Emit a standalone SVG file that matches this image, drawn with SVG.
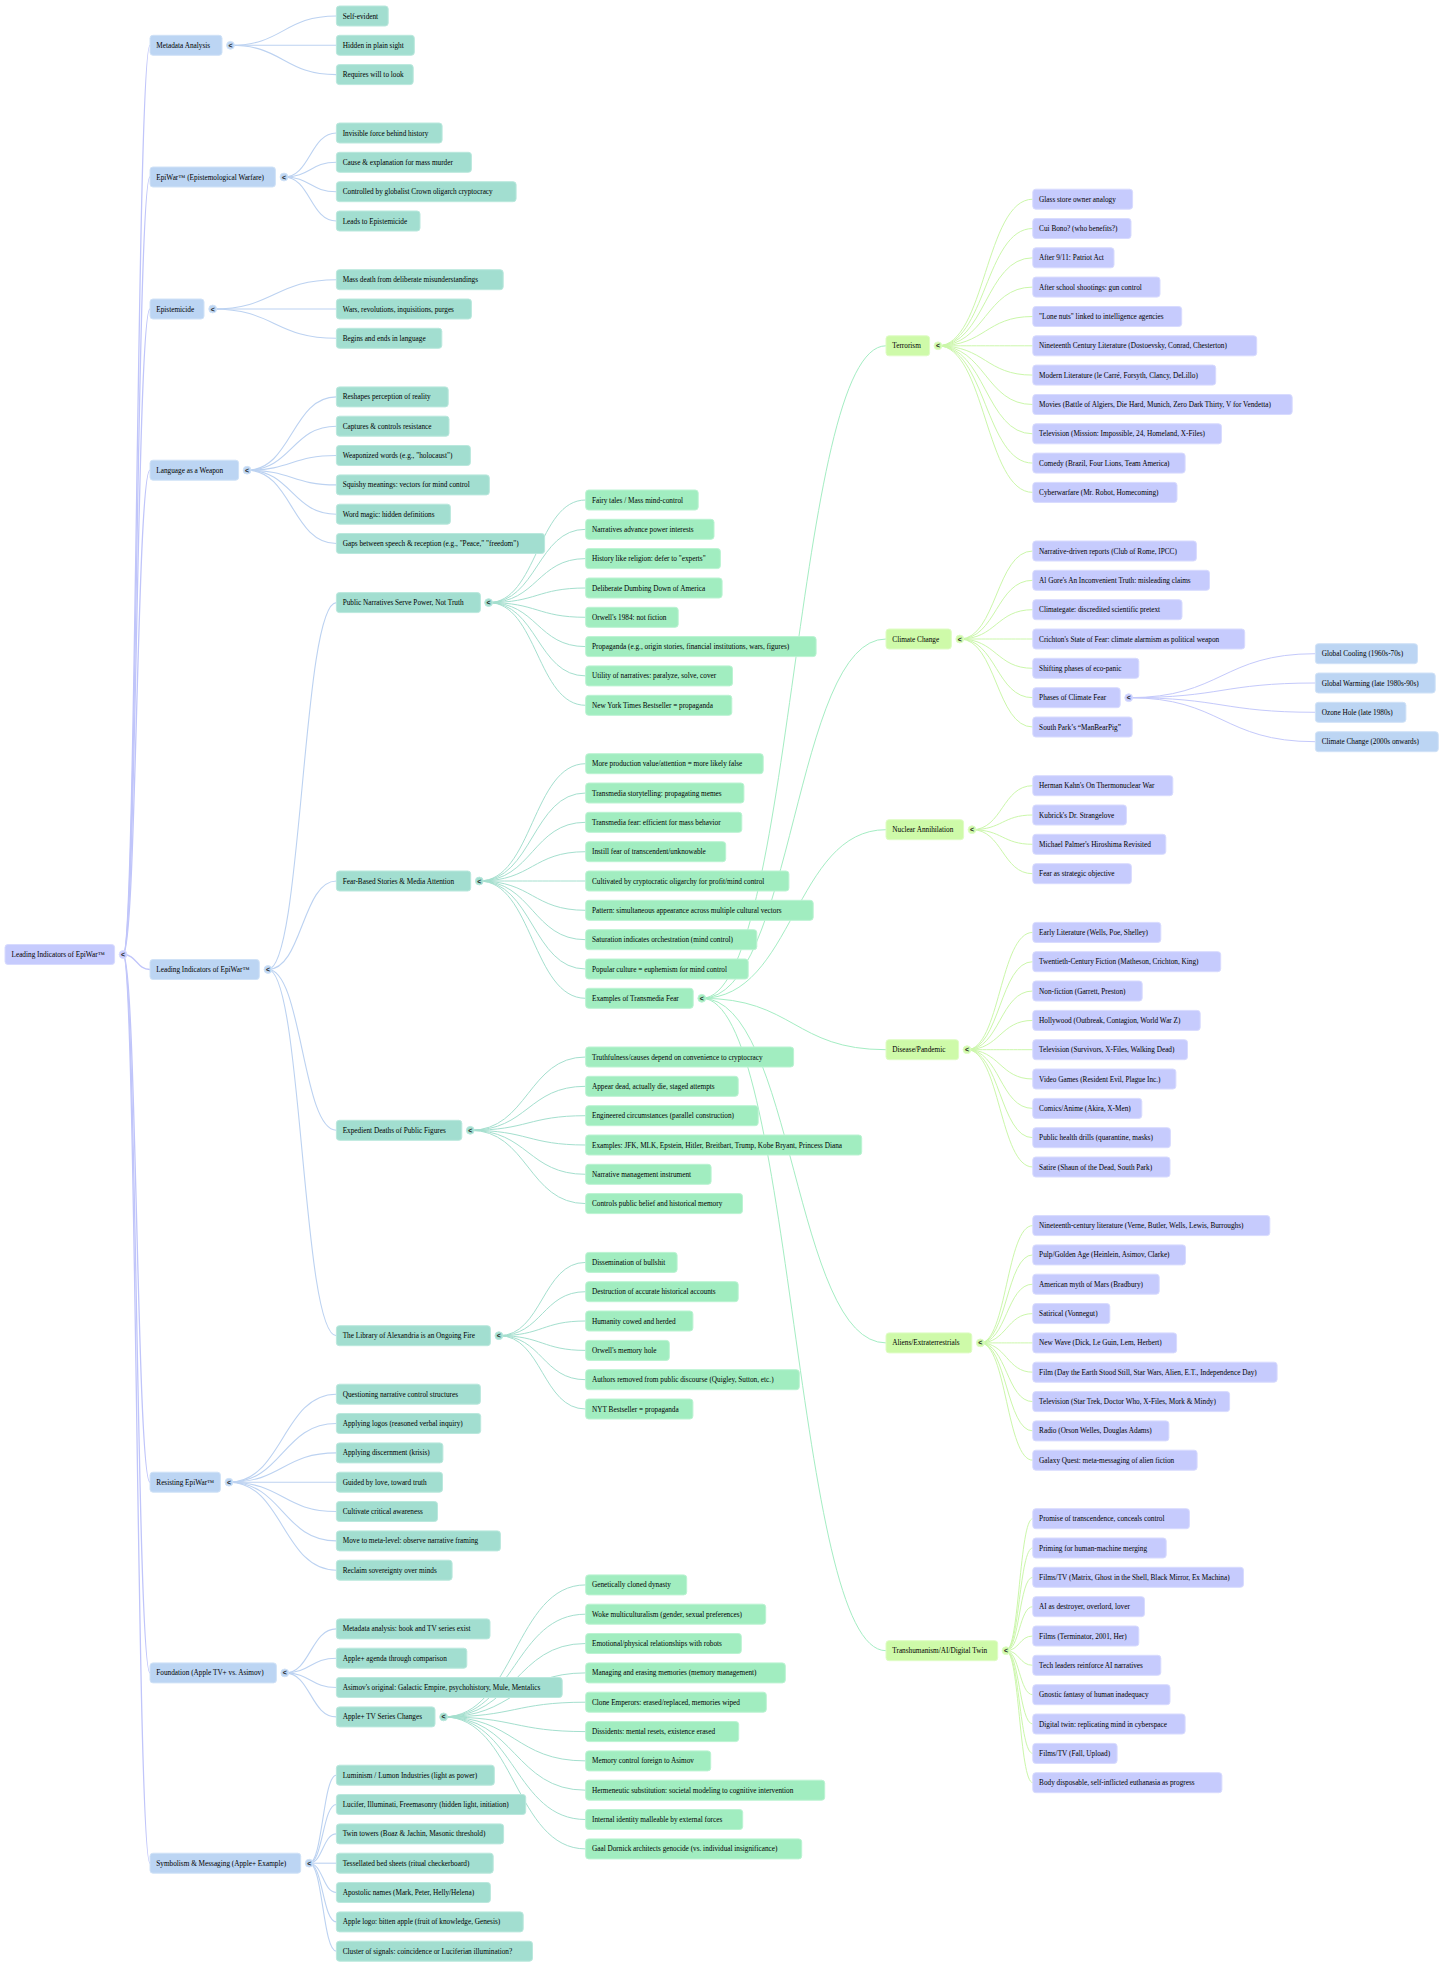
<svg xmlns="http://www.w3.org/2000/svg" width="1456" height="1968" viewBox="0 0 1456 1968">
<style>
rect{rx:3px;ry:3px;stroke-width:1}
text{font-family:"Liberation Serif","Times New Roman",serif;font-size:7.25px;fill:#000}
.c0{fill:#c6cbfd;stroke:#d8dbfe}
.c1{fill:#bcd5f3;stroke:#d0e2f7}
.c2{fill:#a2ded0;stroke:#bae8dd}
.c3{fill:#a1edc0;stroke:#bbf3d2}
.c4{fill:#cefaa9;stroke:#dffcc5}
circle{stroke:none}
.k{font-family:"Liberation Sans",Arial,sans-serif;font-size:7px;font-weight:bold;text-anchor:middle;fill:#222}
#connectors path{fill:none;stroke-width:1}
.l0{stroke:#c0c5fa;stroke-width:1.3px!important}
.l1{stroke:#bcd2f1;stroke-width:1.1px!important}
.l2{stroke:#a4dfce}
.l3{stroke:#a4edc3}
.l4{stroke:#cbf7aa}
.l5{stroke:#c4c9fb}
</style>
<rect x="0" y="0" width="1456" height="1968" fill="#ffffff" style="rx:0;stroke:none"/>
<g id="connectors">
<path class="l0" d="M123.1 954.5C136.6 954.5 136.6 45.3 150 45.3"/>
<path class="l0" d="M123.1 954.5C136.6 954.5 136.6 177 150 177"/>
<path class="l0" d="M123.1 954.5C136.6 954.5 136.6 309 150 309"/>
<path class="l0" d="M123.1 954.5C136.6 954.5 136.6 470.2 150 470.2"/>
<path class="l0" d="M123.1 954.5C136.6 954.5 136.6 969.5 150 969.5"/>
<path class="l0" d="M123.1 954.5C136.6 954.5 136.6 1482.2 150 1482.2"/>
<path class="l0" d="M123.1 954.5C136.6 954.5 136.6 1672.9 150 1672.9"/>
<path class="l0" d="M123.1 954.5C136.6 954.5 136.6 1863.2 150 1863.2"/>
<path class="l1" d="M230.5 45.3C283.5 45.3 283.5 16 336.4 16"/>
<path class="l1" d="M230.5 45.3C283.5 45.3 283.5 45.3 336.4 45.3"/>
<path class="l1" d="M230.5 45.3C283.5 45.3 283.5 74.6 336.4 74.6"/>
<path class="l1" d="M284 177C310.2 177 310.2 133 336.4 133"/>
<path class="l1" d="M284 177C310.2 177 310.2 162.3 336.4 162.3"/>
<path class="l1" d="M284 177C310.2 177 310.2 191.7 336.4 191.7"/>
<path class="l1" d="M284 177C310.2 177 310.2 221 336.4 221"/>
<path class="l1" d="M212.7 309C274.6 309 274.6 279.7 336.4 279.7"/>
<path class="l1" d="M212.7 309C274.6 309 274.6 309 336.4 309"/>
<path class="l1" d="M212.7 309C274.6 309 274.6 338.3 336.4 338.3"/>
<path class="l1" d="M247.1 470.2C291.8 470.2 291.8 396.9 336.4 396.9"/>
<path class="l1" d="M247.1 470.2C291.8 470.2 291.8 426.2 336.4 426.2"/>
<path class="l1" d="M247.1 470.2C291.8 470.2 291.8 455.5 336.4 455.5"/>
<path class="l1" d="M247.1 470.2C291.8 470.2 291.8 484.9 336.4 484.9"/>
<path class="l1" d="M247.1 470.2C291.8 470.2 291.8 514.2 336.4 514.2"/>
<path class="l1" d="M247.1 470.2C291.8 470.2 291.8 543.5 336.4 543.5"/>
<path class="l1" d="M268 969.5C302.2 969.5 302.2 602.6 336.4 602.6"/>
<path class="l1" d="M268 969.5C302.2 969.5 302.2 881 336.4 881"/>
<path class="l1" d="M268 969.5C302.2 969.5 302.2 1130.3 336.4 1130.3"/>
<path class="l1" d="M268 969.5C302.2 969.5 302.2 1335.7 336.4 1335.7"/>
<path class="l1" d="M229 1482.2C282.7 1482.2 282.7 1394.2 336.4 1394.2"/>
<path class="l1" d="M229 1482.2C282.7 1482.2 282.7 1423.5 336.4 1423.5"/>
<path class="l1" d="M229 1482.2C282.7 1482.2 282.7 1452.9 336.4 1452.9"/>
<path class="l1" d="M229 1482.2C282.7 1482.2 282.7 1482.2 336.4 1482.2"/>
<path class="l1" d="M229 1482.2C282.7 1482.2 282.7 1511.5 336.4 1511.5"/>
<path class="l1" d="M229 1482.2C282.7 1482.2 282.7 1540.9 336.4 1540.9"/>
<path class="l1" d="M229 1482.2C282.7 1482.2 282.7 1570.2 336.4 1570.2"/>
<path class="l1" d="M284.8 1672.9C310.6 1672.9 310.6 1628.9 336.4 1628.9"/>
<path class="l1" d="M284.8 1672.9C310.6 1672.9 310.6 1658.2 336.4 1658.2"/>
<path class="l1" d="M284.8 1672.9C310.6 1672.9 310.6 1687.5 336.4 1687.5"/>
<path class="l1" d="M284.8 1672.9C310.6 1672.9 310.6 1716.9 336.4 1716.9"/>
<path class="l1" d="M309.2 1863.2C322.8 1863.2 322.8 1775.2 336.4 1775.2"/>
<path class="l1" d="M309.2 1863.2C322.8 1863.2 322.8 1804.5 336.4 1804.5"/>
<path class="l1" d="M309.2 1863.2C322.8 1863.2 322.8 1833.9 336.4 1833.9"/>
<path class="l1" d="M309.2 1863.2C322.8 1863.2 322.8 1863.2 336.4 1863.2"/>
<path class="l1" d="M309.2 1863.2C322.8 1863.2 322.8 1892.5 336.4 1892.5"/>
<path class="l1" d="M309.2 1863.2C322.8 1863.2 322.8 1921.9 336.4 1921.9"/>
<path class="l1" d="M309.2 1863.2C322.8 1863.2 322.8 1951.2 336.4 1951.2"/>
<path class="l2" d="M488.6 602.6C537.2 602.6 537.2 500 585.7 500"/>
<path class="l2" d="M488.6 602.6C537.2 602.6 537.2 529.3 585.7 529.3"/>
<path class="l2" d="M488.6 602.6C537.2 602.6 537.2 558.6 585.7 558.6"/>
<path class="l2" d="M488.6 602.6C537.2 602.6 537.2 588 585.7 588"/>
<path class="l2" d="M488.6 602.6C537.2 602.6 537.2 617.3 585.7 617.3"/>
<path class="l2" d="M488.6 602.6C537.2 602.6 537.2 646.6 585.7 646.6"/>
<path class="l2" d="M488.6 602.6C537.2 602.6 537.2 675.9 585.7 675.9"/>
<path class="l2" d="M488.6 602.6C537.2 602.6 537.2 705.3 585.7 705.3"/>
<path class="l2" d="M479.3 881C532.5 881 532.5 763.7 585.7 763.7"/>
<path class="l2" d="M479.3 881C532.5 881 532.5 793 585.7 793"/>
<path class="l2" d="M479.3 881C532.5 881 532.5 822.3 585.7 822.3"/>
<path class="l2" d="M479.3 881C532.5 881 532.5 851.7 585.7 851.7"/>
<path class="l2" d="M479.3 881C532.5 881 532.5 881 585.7 881"/>
<path class="l2" d="M479.3 881C532.5 881 532.5 910.3 585.7 910.3"/>
<path class="l2" d="M479.3 881C532.5 881 532.5 939.7 585.7 939.7"/>
<path class="l2" d="M479.3 881C532.5 881 532.5 969 585.7 969"/>
<path class="l2" d="M479.3 881C532.5 881 532.5 998.3 585.7 998.3"/>
<path class="l2" d="M470.3 1130.3C528 1130.3 528 1057 585.7 1057"/>
<path class="l2" d="M470.3 1130.3C528 1130.3 528 1086.3 585.7 1086.3"/>
<path class="l2" d="M470.3 1130.3C528 1130.3 528 1115.7 585.7 1115.7"/>
<path class="l2" d="M470.3 1130.3C528 1130.3 528 1145 585.7 1145"/>
<path class="l2" d="M470.3 1130.3C528 1130.3 528 1174.3 585.7 1174.3"/>
<path class="l2" d="M470.3 1130.3C528 1130.3 528 1203.6 585.7 1203.6"/>
<path class="l2" d="M498.9 1335.7C542.3 1335.7 542.3 1262.4 585.7 1262.4"/>
<path class="l2" d="M498.9 1335.7C542.3 1335.7 542.3 1291.7 585.7 1291.7"/>
<path class="l2" d="M498.9 1335.7C542.3 1335.7 542.3 1321 585.7 1321"/>
<path class="l2" d="M498.9 1335.7C542.3 1335.7 542.3 1350.4 585.7 1350.4"/>
<path class="l2" d="M498.9 1335.7C542.3 1335.7 542.3 1379.7 585.7 1379.7"/>
<path class="l2" d="M498.9 1335.7C542.3 1335.7 542.3 1409 585.7 1409"/>
<path class="l2" d="M443.6 1716.9C514.7 1716.9 514.7 1584.9 585.7 1584.9"/>
<path class="l2" d="M443.6 1716.9C514.7 1716.9 514.7 1614.2 585.7 1614.2"/>
<path class="l2" d="M443.6 1716.9C514.7 1716.9 514.7 1643.5 585.7 1643.5"/>
<path class="l2" d="M443.6 1716.9C514.7 1716.9 514.7 1672.9 585.7 1672.9"/>
<path class="l2" d="M443.6 1716.9C514.7 1716.9 514.7 1702.2 585.7 1702.2"/>
<path class="l2" d="M443.6 1716.9C514.7 1716.9 514.7 1731.6 585.7 1731.6"/>
<path class="l2" d="M443.6 1716.9C514.7 1716.9 514.7 1760.9 585.7 1760.9"/>
<path class="l2" d="M443.6 1716.9C514.7 1716.9 514.7 1790.2 585.7 1790.2"/>
<path class="l2" d="M443.6 1716.9C514.7 1716.9 514.7 1819.5 585.7 1819.5"/>
<path class="l2" d="M443.6 1716.9C514.7 1716.9 514.7 1848.9 585.7 1848.9"/>
<path class="l3" d="M701.8 998.3C793.9 998.3 793.9 345.8 886 345.8"/>
<path class="l3" d="M701.8 998.3C793.9 998.3 793.9 639 886 639"/>
<path class="l3" d="M701.8 998.3C793.9 998.3 793.9 829.7 886 829.7"/>
<path class="l3" d="M701.8 998.3C793.9 998.3 793.9 1049.7 886 1049.7"/>
<path class="l3" d="M701.8 998.3C793.9 998.3 793.9 1342.9 886 1342.9"/>
<path class="l3" d="M701.8 998.3C793.9 998.3 793.9 1650.7 886 1650.7"/>
<path class="l4" d="M938 345.8C985.4 345.8 985.4 199.2 1032.8 199.2"/>
<path class="l4" d="M938 345.8C985.4 345.8 985.4 228.5 1032.8 228.5"/>
<path class="l4" d="M938 345.8C985.4 345.8 985.4 257.8 1032.8 257.8"/>
<path class="l4" d="M938 345.8C985.4 345.8 985.4 287.1 1032.8 287.1"/>
<path class="l4" d="M938 345.8C985.4 345.8 985.4 316.5 1032.8 316.5"/>
<path class="l4" d="M938 345.8C985.4 345.8 985.4 345.8 1032.8 345.8"/>
<path class="l4" d="M938 345.8C985.4 345.8 985.4 375.1 1032.8 375.1"/>
<path class="l4" d="M938 345.8C985.4 345.8 985.4 404.5 1032.8 404.5"/>
<path class="l4" d="M938 345.8C985.4 345.8 985.4 433.8 1032.8 433.8"/>
<path class="l4" d="M938 345.8C985.4 345.8 985.4 463.1 1032.8 463.1"/>
<path class="l4" d="M938 345.8C985.4 345.8 985.4 492.4 1032.8 492.4"/>
<path class="l4" d="M959.8 639C996.3 639 996.3 551 1032.8 551"/>
<path class="l4" d="M959.8 639C996.3 639 996.3 580.3 1032.8 580.3"/>
<path class="l4" d="M959.8 639C996.3 639 996.3 609.7 1032.8 609.7"/>
<path class="l4" d="M959.8 639C996.3 639 996.3 639 1032.8 639"/>
<path class="l4" d="M959.8 639C996.3 639 996.3 668.3 1032.8 668.3"/>
<path class="l4" d="M959.8 639C996.3 639 996.3 697.7 1032.8 697.7"/>
<path class="l4" d="M959.8 639C996.3 639 996.3 727 1032.8 727"/>
<path class="l4" d="M972 829.7C1002.4 829.7 1002.4 785.7 1032.8 785.7"/>
<path class="l4" d="M972 829.7C1002.4 829.7 1002.4 815 1032.8 815"/>
<path class="l4" d="M972 829.7C1002.4 829.7 1002.4 844.3 1032.8 844.3"/>
<path class="l4" d="M972 829.7C1002.4 829.7 1002.4 873.7 1032.8 873.7"/>
<path class="l4" d="M967 1049.7C999.9 1049.7 999.9 932.4 1032.8 932.4"/>
<path class="l4" d="M967 1049.7C999.9 1049.7 999.9 961.7 1032.8 961.7"/>
<path class="l4" d="M967 1049.7C999.9 1049.7 999.9 991 1032.8 991"/>
<path class="l4" d="M967 1049.7C999.9 1049.7 999.9 1020.4 1032.8 1020.4"/>
<path class="l4" d="M967 1049.7C999.9 1049.7 999.9 1049.7 1032.8 1049.7"/>
<path class="l4" d="M967 1049.7C999.9 1049.7 999.9 1079 1032.8 1079"/>
<path class="l4" d="M967 1049.7C999.9 1049.7 999.9 1108.4 1032.8 1108.4"/>
<path class="l4" d="M967 1049.7C999.9 1049.7 999.9 1137.7 1032.8 1137.7"/>
<path class="l4" d="M967 1049.7C999.9 1049.7 999.9 1167 1032.8 1167"/>
<path class="l4" d="M980.3 1342.9C1006.6 1342.9 1006.6 1225.6 1032.8 1225.6"/>
<path class="l4" d="M980.3 1342.9C1006.6 1342.9 1006.6 1254.9 1032.8 1254.9"/>
<path class="l4" d="M980.3 1342.9C1006.6 1342.9 1006.6 1284.2 1032.8 1284.2"/>
<path class="l4" d="M980.3 1342.9C1006.6 1342.9 1006.6 1313.6 1032.8 1313.6"/>
<path class="l4" d="M980.3 1342.9C1006.6 1342.9 1006.6 1342.9 1032.8 1342.9"/>
<path class="l4" d="M980.3 1342.9C1006.6 1342.9 1006.6 1372.2 1032.8 1372.2"/>
<path class="l4" d="M980.3 1342.9C1006.6 1342.9 1006.6 1401.6 1032.8 1401.6"/>
<path class="l4" d="M980.3 1342.9C1006.6 1342.9 1006.6 1430.9 1032.8 1430.9"/>
<path class="l4" d="M980.3 1342.9C1006.6 1342.9 1006.6 1460.2 1032.8 1460.2"/>
<path class="l4" d="M1006 1650.7C1019.4 1650.7 1019.4 1518.7 1032.8 1518.7"/>
<path class="l4" d="M1006 1650.7C1019.4 1650.7 1019.4 1548 1032.8 1548"/>
<path class="l4" d="M1006 1650.7C1019.4 1650.7 1019.4 1577.3 1032.8 1577.3"/>
<path class="l4" d="M1006 1650.7C1019.4 1650.7 1019.4 1606.7 1032.8 1606.7"/>
<path class="l4" d="M1006 1650.7C1019.4 1650.7 1019.4 1636 1032.8 1636"/>
<path class="l4" d="M1006 1650.7C1019.4 1650.7 1019.4 1665.3 1032.8 1665.3"/>
<path class="l4" d="M1006 1650.7C1019.4 1650.7 1019.4 1694.7 1032.8 1694.7"/>
<path class="l4" d="M1006 1650.7C1019.4 1650.7 1019.4 1724 1032.8 1724"/>
<path class="l4" d="M1006 1650.7C1019.4 1650.7 1019.4 1753.4 1032.8 1753.4"/>
<path class="l4" d="M1006 1650.7C1019.4 1650.7 1019.4 1782.7 1032.8 1782.7"/>
<path class="l5" d="M1128.7 697.7C1222 697.7 1222 653.7 1315.4 653.7"/>
<path class="l5" d="M1128.7 697.7C1222 697.7 1222 683 1315.4 683"/>
<path class="l5" d="M1128.7 697.7C1222 697.7 1222 712.3 1315.4 712.3"/>
<path class="l5" d="M1128.7 697.7C1222 697.7 1222 741.7 1315.4 741.7"/>
</g>
<g id="nodes">
<g id="root"><rect class="c0" x="5" y="944.5" width="109.6" height="20"/><text x="11.5" y="957">Leading Indicators of EpiWar™</text><circle class="c0" cx="123.1" cy="954.5" r="3.9"/><text class="k" x="123.1" y="957">&lt;</text></g>

<g id="metadata"><rect class="c1" x="150" y="35.3" width="72" height="20"/><text x="156.3" y="47.8">Metadata Analysis</text><circle class="c1" cx="230.5" cy="45.3" r="3.9"/><text class="k" x="230.5" y="47.8">&lt;</text></g>
<g id="epiwar"><rect class="c1" x="150" y="167" width="125.4" height="20"/><text x="156.3" y="179.5">EpiWar™ (Epistemological Warfare)</text><circle class="c1" cx="284" cy="177" r="3.9"/><text class="k" x="284" y="179.5">&lt;</text></g>
<g id="epistemicide"><rect class="c1" x="150" y="299" width="54" height="20"/><text x="156.3" y="311.5">Epistemicide</text><circle class="c1" cx="212.7" cy="309" r="3.9"/><text class="k" x="212.7" y="311.5">&lt;</text></g>
<g id="language"><rect class="c1" x="150" y="460.2" width="88.6" height="20"/><text x="156.3" y="472.7">Language as a Weapon</text><circle class="c1" cx="247.1" cy="470.2" r="3.9"/><text class="k" x="247.1" y="472.7">&lt;</text></g>
<g id="leading"><rect class="c1" x="150" y="959.5" width="109.3" height="20"/><text x="156.3" y="972">Leading Indicators of EpiWar™</text><circle class="c1" cx="268" cy="969.5" r="3.9"/><text class="k" x="268" y="972">&lt;</text></g>
<g id="resisting"><rect class="c1" x="150" y="1472.2" width="70.4" height="20"/><text x="156.3" y="1484.7">Resisting EpiWar™</text><circle class="c1" cx="229" cy="1482.2" r="3.9"/><text class="k" x="229" y="1484.7">&lt;</text></g>
<g id="foundation"><rect class="c1" x="150" y="1662.9" width="126.4" height="20"/><text x="156.3" y="1675.4">Foundation (Apple TV+ vs. Asimov)</text><circle class="c1" cx="284.8" cy="1672.9" r="3.9"/><text class="k" x="284.8" y="1675.4">&lt;</text></g>
<g id="symbolism"><rect class="c1" x="150" y="1853.2" width="150.7" height="20"/><text x="156.3" y="1865.7">Symbolism &amp; Messaging (Apple+ Example)</text><circle class="c1" cx="309.2" cy="1863.2" r="3.9"/><text class="k" x="309.2" y="1865.7">&lt;</text></g>

<g id="n-self"><rect class="c2" x="336.4" y="6" width="51.8" height="20"/><text x="342.7" y="18.5">Self-evident</text></g>
<g id="n-hidden"><rect class="c2" x="336.4" y="35.3" width="77.9" height="20"/><text x="342.7" y="47.8">Hidden in plain sight</text></g>
<g id="n-requires"><rect class="c2" x="336.4" y="64.6" width="76.8" height="20"/><text x="342.7" y="77.1">Requires will to look</text></g>
<g id="n-invisible"><rect class="c2" x="336.4" y="123" width="105.7" height="20"/><text x="342.7" y="135.5">Invisible force behind history</text></g>
<g id="n-cause"><rect class="c2" x="336.4" y="152.3" width="135" height="20"/><text x="342.7" y="164.8">Cause &amp; explanation for mass murder</text></g>
<g id="n-controlled"><rect class="c2" x="336.4" y="181.7" width="179.7" height="20"/><text x="342.7" y="194.2">Controlled by globalist Crown oligarch cryptocracy</text></g>
<g id="n-leads"><rect class="c2" x="336.4" y="211" width="83.6" height="20"/><text x="342.7" y="223.5">Leads to Epistemicide</text></g>
<g id="n-massdeath"><rect class="c2" x="336.4" y="269.7" width="166.8" height="20"/><text x="342.7" y="282.2">Mass death from deliberate misunderstandings</text></g>
<g id="n-wars"><rect class="c2" x="336.4" y="299" width="135" height="20"/><text x="342.7" y="311.5">Wars, revolutions, inquisitions, purges</text></g>
<g id="n-begins"><rect class="c2" x="336.4" y="328.3" width="105.4" height="20"/><text x="342.7" y="340.8">Begins and ends in language</text></g>
<g id="n-reshapes"><rect class="c2" x="336.4" y="386.9" width="111.8" height="20"/><text x="342.7" y="399.4">Reshapes perception of reality</text></g>
<g id="n-captures"><rect class="c2" x="336.4" y="416.2" width="112.6" height="20"/><text x="342.7" y="428.7">Captures &amp; controls resistance</text></g>
<g id="n-weaponized"><rect class="c2" x="336.4" y="445.5" width="134" height="20"/><text x="342.7" y="458">Weaponized words (e.g., "holocaust")</text></g>
<g id="n-squishy"><rect class="c2" x="336.4" y="474.9" width="152.9" height="20"/><text x="342.7" y="487.4">Squishy meanings: vectors for mind control</text></g>
<g id="n-wordmagic"><rect class="c2" x="336.4" y="504.2" width="114" height="20"/><text x="342.7" y="516.7">Word magic: hidden definitions</text></g>
<g id="n-gaps"><rect class="c2" x="336.4" y="533.5" width="208.2" height="20"/><text x="342.7" y="546">Gaps between speech &amp; reception (e.g., "Peace," "freedom")</text></g>
<g id="n-public"><rect class="c2" x="336.4" y="592.6" width="144" height="20"/><text x="342.7" y="605.1">Public Narratives Serve Power, Not Truth</text><circle class="c2" cx="488.6" cy="602.6" r="3.9"/><text class="k" x="488.6" y="605.1">&lt;</text></g>
<g id="n-fear"><rect class="c2" x="336.4" y="871" width="134.3" height="20"/><text x="342.7" y="883.5">Fear-Based Stories &amp; Media Attention</text><circle class="c2" cx="479.3" cy="881" r="3.9"/><text class="k" x="479.3" y="883.5">&lt;</text></g>
<g id="n-expedient"><rect class="c2" x="336.4" y="1120.3" width="125.4" height="20"/><text x="342.7" y="1132.8">Expedient Deaths of Public Figures</text><circle class="c2" cx="470.3" cy="1130.3" r="3.9"/><text class="k" x="470.3" y="1132.8">&lt;</text></g>
<g id="n-library"><rect class="c2" x="336.4" y="1325.7" width="154" height="20"/><text x="342.7" y="1338.2">The Library of Alexandria is an Ongoing Fire</text><circle class="c2" cx="498.9" cy="1335.7" r="3.9"/><text class="k" x="498.9" y="1338.2">&lt;</text></g>
<g id="n-questioning"><rect class="c2" x="336.4" y="1384.2" width="144" height="20"/><text x="342.7" y="1396.7">Questioning narrative control structures</text></g>
<g id="n-logos"><rect class="c2" x="336.4" y="1413.5" width="144.3" height="20"/><text x="342.7" y="1426">Applying logos (reasoned verbal inquiry)</text></g>
<g id="n-discernment"><rect class="c2" x="336.4" y="1442.9" width="106.5" height="20"/><text x="342.7" y="1455.4">Applying discernment (krisis)</text></g>
<g id="n-guided"><rect class="c2" x="336.4" y="1472.2" width="106.1" height="20"/><text x="342.7" y="1484.7">Guided by love, toward truth</text></g>
<g id="n-cultivate"><rect class="c2" x="336.4" y="1501.5" width="101.1" height="20"/><text x="342.7" y="1514">Cultivate critical awareness</text></g>
<g id="n-meta"><rect class="c2" x="336.4" y="1530.9" width="164" height="20"/><text x="342.7" y="1543.4">Move to meta-level: observe narrative framing</text></g>
<g id="n-reclaim"><rect class="c2" x="336.4" y="1560.2" width="115.7" height="20"/><text x="342.7" y="1572.7">Reclaim sovereignty over minds</text></g>
<g id="n-metaanalysis"><rect class="c2" x="336.4" y="1618.9" width="153.6" height="20"/><text x="342.7" y="1631.4">Metadata analysis: book and TV series exist</text></g>
<g id="n-agenda"><rect class="c2" x="336.4" y="1648.2" width="130.4" height="20"/><text x="342.7" y="1660.7">Apple+ agenda through comparison</text></g>
<g id="n-asimov"><rect class="c2" x="336.4" y="1677.5" width="225.8" height="20"/><text x="342.7" y="1690">Asimov's original: Galactic Empire, psychohistory, Mule, Mentalics</text></g>
<g id="n-appletv"><rect class="c2" x="336.4" y="1706.9" width="98.6" height="20"/><text x="342.7" y="1719.4">Apple+ TV Series Changes</text><circle class="c2" cx="443.6" cy="1716.9" r="3.9"/><text class="k" x="443.6" y="1719.4">&lt;</text></g>
<g id="n-luminism"><rect class="c2" x="336.4" y="1765.2" width="157.9" height="20"/><text x="342.7" y="1777.7">Luminism / Lumon Industries (light as power)</text></g>
<g id="n-lucifer"><rect class="c2" x="336.4" y="1794.5" width="189.3" height="20"/><text x="342.7" y="1807">Lucifer, Illuminati, Freemasonry (hidden light, initiation)</text></g>
<g id="n-twin"><rect class="c2" x="336.4" y="1823.9" width="167.2" height="20"/><text x="342.7" y="1836.4">Twin towers (Boaz &amp; Jachin, Masonic threshold)</text></g>
<g id="n-tessellated"><rect class="c2" x="336.4" y="1853.2" width="156.8" height="20"/><text x="342.7" y="1865.7">Tessellated bed sheets (ritual checkerboard)</text></g>
<g id="n-apostolic"><rect class="c2" x="336.4" y="1882.5" width="154" height="20"/><text x="342.7" y="1895">Apostolic names (Mark, Peter, Helly/Helena)</text></g>
<g id="n-applelogo"><rect class="c2" x="336.4" y="1911.9" width="186.8" height="20"/><text x="342.7" y="1924.4">Apple logo: bitten apple (fruit of knowledge, Genesis)</text></g>
<g id="n-cluster"><rect class="c2" x="336.4" y="1941.2" width="196.1" height="20"/><text x="342.7" y="1953.7">Cluster of signals: coincidence or Luciferian illumination?</text></g>

<g id="n-fairy"><rect class="c3" x="585.7" y="490" width="112.5" height="20"/><text x="592" y="502.5">Fairy tales / Mass mind-control</text></g>
<g id="n-narratives"><rect class="c3" x="585.7" y="519.3" width="128.3" height="20"/><text x="592" y="531.8">Narratives advance power interests</text></g>
<g id="n-history"><rect class="c3" x="585.7" y="548.6" width="134.7" height="20"/><text x="592" y="561.1">History like religion: defer to "experts"</text></g>
<g id="n-dumbing"><rect class="c3" x="585.7" y="578" width="136.4" height="20"/><text x="592" y="590.5">Deliberate Dumbing Down of America</text></g>
<g id="n-orwell"><rect class="c3" x="585.7" y="607.3" width="92.5" height="20"/><text x="592" y="619.8">Orwell's 1984: not fiction</text></g>
<g id="n-propaganda"><rect class="c3" x="585.7" y="636.6" width="230.4" height="20"/><text x="592" y="649.1">Propaganda (e.g., origin stories, financial institutions, wars, figures)</text></g>
<g id="n-utility"><rect class="c3" x="585.7" y="665.9" width="146.8" height="20"/><text x="592" y="678.4">Utility of narratives: paralyze, solve, cover</text></g>
<g id="n-nyt"><rect class="c3" x="585.7" y="695.3" width="146.1" height="20"/><text x="592" y="707.8">New York Times Bestseller = propaganda</text></g>
<g id="n-production"><rect class="c3" x="585.7" y="753.7" width="177.5" height="20"/><text x="592" y="766.2">More production value/attention = more likely false</text></g>
<g id="n-storytelling"><rect class="c3" x="585.7" y="783" width="158.2" height="20"/><text x="592" y="795.5">Transmedia storytelling: propagating memes</text></g>
<g id="n-tfear"><rect class="c3" x="585.7" y="812.3" width="156.1" height="20"/><text x="592" y="824.8">Transmedia fear: efficient for mass behavior</text></g>
<g id="n-instill"><rect class="c3" x="585.7" y="841.7" width="140" height="20"/><text x="592" y="854.2">Instill fear of transcendent/unknowable</text></g>
<g id="n-cultivated"><rect class="c3" x="585.7" y="871" width="203.2" height="20"/><text x="592" y="883.5">Cultivated by cryptocratic oligarchy for profit/mind control</text></g>
<g id="n-pattern"><rect class="c3" x="585.7" y="900.3" width="227.5" height="20"/><text x="592" y="912.8">Pattern: simultaneous appearance across multiple cultural vectors</text></g>
<g id="n-saturation"><rect class="c3" x="585.7" y="929.7" width="171.1" height="20"/><text x="592" y="942.2">Saturation indicates orchestration (mind control)</text></g>
<g id="n-popular"><rect class="c3" x="585.7" y="959" width="162.5" height="20"/><text x="592" y="971.5">Popular culture = euphemism for mind control</text></g>
<g id="n-examples"><rect class="c3" x="585.7" y="988.3" width="107.5" height="20"/><text x="592" y="1000.8">Examples of Transmedia Fear</text><circle class="c3" cx="701.8" cy="998.3" r="3.9"/><text class="k" x="701.8" y="1000.8">&lt;</text></g>
<g id="n-truthfulness"><rect class="c3" x="585.7" y="1047" width="207.9" height="20"/><text x="592" y="1059.5">Truthfulness/causes depend on convenience to cryptocracy</text></g>
<g id="n-appear"><rect class="c3" x="585.7" y="1076.3" width="152.5" height="20"/><text x="592" y="1088.8">Appear dead, actually die, staged attempts</text></g>
<g id="n-engineered"><rect class="c3" x="585.7" y="1105.7" width="172.5" height="20"/><text x="592" y="1118.2">Engineered circumstances (parallel construction)</text></g>
<g id="n-jfk"><rect class="c3" x="585.7" y="1135" width="276" height="20"/><text x="592" y="1147.5">Examples: JFK, MLK, Epstein, Hitler, Breitbart, Trump, Kobe Bryant, Princess Diana</text></g>
<g id="n-mgmt"><rect class="c3" x="585.7" y="1164.3" width="125.4" height="20"/><text x="592" y="1176.8">Narrative management instrument</text></g>
<g id="n-controls"><rect class="c3" x="585.7" y="1193.6" width="156.8" height="20"/><text x="592" y="1206.1">Controls public belief and historical memory</text></g>
<g id="n-dissemination"><rect class="c3" x="585.7" y="1252.4" width="91.4" height="20"/><text x="592" y="1264.9">Dissemination of bullshit</text></g>
<g id="n-destruction"><rect class="c3" x="585.7" y="1281.7" width="152.5" height="20"/><text x="592" y="1294.2">Destruction of accurate historical accounts</text></g>
<g id="n-humanity"><rect class="c3" x="585.7" y="1311" width="107.2" height="20"/><text x="592" y="1323.5">Humanity cowed and herded</text></g>
<g id="n-memoryhole"><rect class="c3" x="585.7" y="1340.4" width="83.6" height="20"/><text x="592" y="1352.9">Orwell's memory hole</text></g>
<g id="n-authors"><rect class="c3" x="585.7" y="1369.7" width="213.6" height="20"/><text x="592" y="1382.2">Authors removed from public discourse (Quigley, Sutton, etc.)</text></g>
<g id="n-nytb"><rect class="c3" x="585.7" y="1399" width="107.2" height="20"/><text x="592" y="1411.5">NYT Bestseller = propaganda</text></g>
<g id="n-cloned"><rect class="c3" x="585.7" y="1574.9" width="101" height="20"/><text x="592" y="1587.4">Genetically cloned dynasty</text></g>
<g id="n-woke"><rect class="c3" x="585.7" y="1604.2" width="180" height="20"/><text x="592" y="1616.7">Woke multiculturalism (gender, sexual preferences)</text></g>
<g id="n-robots"><rect class="c3" x="585.7" y="1633.5" width="155.6" height="20"/><text x="592" y="1646">Emotional/physical relationships with robots</text></g>
<g id="n-managing"><rect class="c3" x="585.7" y="1662.9" width="199.6" height="20"/><text x="592" y="1675.4">Managing and erasing memories (memory management)</text></g>
<g id="n-clone"><rect class="c3" x="585.7" y="1692.2" width="180.6" height="20"/><text x="592" y="1704.7">Clone Emperors: erased/replaced, memories wiped</text></g>
<g id="n-dissidents"><rect class="c3" x="585.7" y="1721.6" width="153" height="20"/><text x="592" y="1734.1">Dissidents: mental resets, existence erased</text></g>
<g id="n-memctl"><rect class="c3" x="585.7" y="1750.9" width="125" height="20"/><text x="592" y="1763.4">Memory control foreign to Asimov</text></g>
<g id="n-hermeneutic"><rect class="c3" x="585.7" y="1780.2" width="239" height="20"/><text x="592" y="1792.7">Hermeneutic substitution: societal modeling to cognitive intervention</text></g>
<g id="n-internal"><rect class="c3" x="585.7" y="1809.5" width="157" height="20"/><text x="592" y="1822">Internal identity malleable by external forces</text></g>
<g id="n-gaal"><rect class="c3" x="585.7" y="1838.9" width="216" height="20"/><text x="592" y="1851.4">Gaal Dornick architects genocide (vs. individual insignificance)</text></g>

<g id="n-terrorism"><rect class="c4" x="886" y="335.8" width="43.6" height="20"/><text x="892.3" y="348.3">Terrorism</text><circle class="c4" cx="938" cy="345.8" r="3.9"/><text class="k" x="938" y="348.3">&lt;</text></g>
<g id="n-climate"><rect class="c4" x="886" y="629" width="65.3" height="20"/><text x="892.3" y="641.5">Climate Change</text><circle class="c4" cx="959.8" cy="639" r="3.9"/><text class="k" x="959.8" y="641.5">&lt;</text></g>
<g id="n-nuclear"><rect class="c4" x="886" y="819.7" width="77.6" height="20"/><text x="892.3" y="832.2">Nuclear Annihilation</text><circle class="c4" cx="972" cy="829.7" r="3.9"/><text class="k" x="972" y="832.2">&lt;</text></g>
<g id="n-disease"><rect class="c4" x="886" y="1039.7" width="72.6" height="20"/><text x="892.3" y="1052.2">Disease/Pandemic</text><circle class="c4" cx="967" cy="1049.7" r="3.9"/><text class="k" x="967" y="1052.2">&lt;</text></g>
<g id="n-aliens"><rect class="c4" x="886" y="1332.9" width="85.8" height="20"/><text x="892.3" y="1345.4">Aliens/Extraterrestrials</text><circle class="c4" cx="980.3" cy="1342.9" r="3.9"/><text class="k" x="980.3" y="1345.4">&lt;</text></g>
<g id="n-trans"><rect class="c4" x="886" y="1640.7" width="111.7" height="20"/><text x="892.3" y="1653.2">Transhumanism/AI/Digital Twin</text><circle class="c4" cx="1006" cy="1650.7" r="3.9"/><text class="k" x="1006" y="1653.2">&lt;</text></g>

<g id="t-glass"><rect class="c0" x="1032.8" y="189.2" width="99.8" height="20"/><text x="1039.1" y="201.7">Glass store owner analogy</text></g>
<g id="t-cui"><rect class="c0" x="1032.8" y="218.5" width="98.2" height="20"/><text x="1039.1" y="231">Cui Bono? (who benefits?)</text></g>
<g id="t-911"><rect class="c0" x="1032.8" y="247.8" width="81.2" height="20"/><text x="1039.1" y="260.3">After 9/11: Patriot Act</text></g>
<g id="t-school"><rect class="c0" x="1032.8" y="277.1" width="127.2" height="20"/><text x="1039.1" y="289.6">After school shootings: gun control</text></g>
<g id="t-lone"><rect class="c0" x="1032.8" y="306.5" width="148.9" height="20"/><text x="1039.1" y="319">"Lone nuts" linked to intelligence agencies</text></g>
<g id="t-19c"><rect class="c0" x="1032.8" y="335.8" width="223.9" height="20"/><text x="1039.1" y="348.3">Nineteenth Century Literature (Dostoevsky, Conrad, Chesterton)</text></g>
<g id="t-modern"><rect class="c0" x="1032.8" y="365.1" width="182.9" height="20"/><text x="1039.1" y="377.6">Modern Literature (le Carré, Forsyth, Clancy, DeLillo)</text></g>
<g id="t-movies"><rect class="c0" x="1032.8" y="394.5" width="259.4" height="20"/><text x="1039.1" y="407">Movies (Battle of Algiers, Die Hard, Munich, Zero Dark Thirty, V for Vendetta)</text></g>
<g id="t-tv"><rect class="c0" x="1032.8" y="423.8" width="188.7" height="20"/><text x="1039.1" y="436.3">Television (Mission: Impossible, 24, Homeland, X-Files)</text></g>
<g id="t-comedy"><rect class="c0" x="1032.8" y="453.1" width="152.3" height="20"/><text x="1039.1" y="465.6">Comedy (Brazil, Four Lions, Team America)</text></g>
<g id="t-cyber"><rect class="c0" x="1032.8" y="482.4" width="144.2" height="20"/><text x="1039.1" y="494.9">Cyberwarfare (Mr. Robot, Homecoming)</text></g>

<g id="c-reports"><rect class="c0" x="1032.8" y="541" width="163.6" height="20"/><text x="1039.1" y="553.5">Narrative-driven reports (Club of Rome, IPCC)</text></g>
<g id="c-gore"><rect class="c0" x="1032.8" y="570.3" width="176.7" height="20"/><text x="1039.1" y="582.8">Al Gore's An Inconvenient Truth: misleading claims</text></g>
<g id="c-gate"><rect class="c0" x="1032.8" y="599.7" width="149.2" height="20"/><text x="1039.1" y="612.2">Climategate: discredited scientific pretext</text></g>
<g id="c-crichton"><rect class="c0" x="1032.8" y="629" width="211.9" height="20"/><text x="1039.1" y="641.5">Crichton's State of Fear: climate alarmism as political weapon</text></g>
<g id="c-shifting"><rect class="c0" x="1032.8" y="658.3" width="106" height="20"/><text x="1039.1" y="670.8">Shifting phases of eco-panic</text></g>
<g id="c-phases"><rect class="c0" x="1032.8" y="687.7" width="87.4" height="20"/><text x="1039.1" y="700.2">Phases of Climate Fear</text><circle class="c0" cx="1128.7" cy="697.7" r="3.9"/><text class="k" x="1128.7" y="700.2">&lt;</text></g>
<g id="c-southpark"><rect class="c0" x="1032.8" y="717" width="99.4" height="20"/><text x="1039.1" y="729.5">South Park’s “ManBearPig”</text></g>
<g id="p-cooling"><rect class="c1" x="1315.4" y="643.7" width="102.1" height="20"/><text x="1321.7" y="656.2">Global Cooling (1960s-70s)</text></g>
<g id="p-warming"><rect class="c1" x="1315.4" y="673" width="119.8" height="20"/><text x="1321.7" y="685.5">Global Warming (late 1980s-90s)</text></g>
<g id="p-ozone"><rect class="c1" x="1315.4" y="702.3" width="90.5" height="20"/><text x="1321.7" y="714.8">Ozone Hole (late 1980s)</text></g>
<g id="p-change"><rect class="c1" x="1315.4" y="731.7" width="122.9" height="20"/><text x="1321.7" y="744.2">Climate Change (2000s onwards)</text></g>

<g id="u-kahn"><rect class="c0" x="1032.8" y="775.7" width="140" height="20"/><text x="1039.1" y="788.2">Herman Kahn's On Thermonuclear War</text></g>
<g id="u-kubrick"><rect class="c0" x="1032.8" y="805" width="93.6" height="20"/><text x="1039.1" y="817.5">Kubrick's Dr. Strangelove</text></g>
<g id="u-palmer"><rect class="c0" x="1032.8" y="834.3" width="133" height="20"/><text x="1039.1" y="846.8">Michael Palmer's Hiroshima Revisited</text></g>
<g id="u-fear"><rect class="c0" x="1032.8" y="863.7" width="98.6" height="20"/><text x="1039.1" y="876.2">Fear as strategic objective</text></g>

<g id="d-early"><rect class="c0" x="1032.8" y="922.4" width="128" height="20"/><text x="1039.1" y="934.9">Early Literature (Wells, Poe, Shelley)</text></g>
<g id="d-20c"><rect class="c0" x="1032.8" y="951.7" width="187.9" height="20"/><text x="1039.1" y="964.2">Twentieth-Century Fiction (Matheson, Crichton, King)</text></g>
<g id="d-nonfiction"><rect class="c0" x="1032.8" y="981" width="109.4" height="20"/><text x="1039.1" y="993.5">Non-fiction (Garrett, Preston)</text></g>
<g id="d-hollywood"><rect class="c0" x="1032.8" y="1010.4" width="167.4" height="20"/><text x="1039.1" y="1022.9">Hollywood (Outbreak, Contagion, World War Z)</text></g>
<g id="d-tv"><rect class="c0" x="1032.8" y="1039.7" width="154.7" height="20"/><text x="1039.1" y="1052.2">Television (Survivors, X-Files, Walking Dead)</text></g>
<g id="d-games"><rect class="c0" x="1032.8" y="1069" width="143.1" height="20"/><text x="1039.1" y="1081.5">Video Games (Resident Evil, Plague Inc.)</text></g>
<g id="d-comics"><rect class="c0" x="1032.8" y="1098.4" width="109" height="20"/><text x="1039.1" y="1110.9">Comics/Anime (Akira, X-Men)</text></g>
<g id="d-drills"><rect class="c0" x="1032.8" y="1127.7" width="137.6" height="20"/><text x="1039.1" y="1140.2">Public health drills (quarantine, masks)</text></g>
<g id="d-satire"><rect class="c0" x="1032.8" y="1157" width="137.2" height="20"/><text x="1039.1" y="1169.5">Satire (Shaun of the Dead, South Park)</text></g>

<g id="a-19c"><rect class="c0" x="1032.8" y="1215.6" width="237" height="20"/><text x="1039.1" y="1228.1">Nineteenth-century literature (Verne, Butler, Wells, Lewis, Burroughs)</text></g>
<g id="a-pulp"><rect class="c0" x="1032.8" y="1244.9" width="152.7" height="20"/><text x="1039.1" y="1257.4">Pulp/Golden Age (Heinlein, Asimov, Clarke)</text></g>
<g id="a-mars"><rect class="c0" x="1032.8" y="1274.2" width="126.4" height="20"/><text x="1039.1" y="1286.7">American myth of Mars (Bradbury)</text></g>
<g id="a-satirical"><rect class="c0" x="1032.8" y="1303.6" width="77" height="20"/><text x="1039.1" y="1316.1">Satirical (Vonnegut)</text></g>
<g id="a-newwave"><rect class="c0" x="1032.8" y="1332.9" width="143.8" height="20"/><text x="1039.1" y="1345.4">New Wave (Dick, Le Guin, Lem, Herbert)</text></g>
<g id="a-film"><rect class="c0" x="1032.8" y="1362.2" width="244.3" height="20"/><text x="1039.1" y="1374.7">Film (Day the Earth Stood Still, Star Wars, Alien, E.T., Independence Day)</text></g>
<g id="a-tv"><rect class="c0" x="1032.8" y="1391.6" width="196.8" height="20"/><text x="1039.1" y="1404.1">Television (Star Trek, Doctor Who, X-Files, Mork &amp; Mindy)</text></g>
<g id="a-radio"><rect class="c0" x="1032.8" y="1420.9" width="136.1" height="20"/><text x="1039.1" y="1433.4">Radio (Orson Welles, Douglas Adams)</text></g>
<g id="a-galaxy"><rect class="c0" x="1032.8" y="1450.2" width="164.3" height="20"/><text x="1039.1" y="1462.7">Galaxy Quest: meta-messaging of alien fiction</text></g>

<g id="h-promise"><rect class="c0" x="1032.8" y="1508.7" width="156.6" height="20"/><text x="1039.1" y="1521.2">Promise of transcendence, conceals control</text></g>
<g id="h-priming"><rect class="c0" x="1032.8" y="1538" width="133.4" height="20"/><text x="1039.1" y="1550.5">Priming for human-machine merging</text></g>
<g id="h-matrix"><rect class="c0" x="1032.8" y="1567.3" width="210.7" height="20"/><text x="1039.1" y="1579.8">Films/TV (Matrix, Ghost in the Shell, Black Mirror, Ex Machina)</text></g>
<g id="h-ai"><rect class="c0" x="1032.8" y="1596.7" width="111.7" height="20"/><text x="1039.1" y="1609.2">AI as destroyer, overlord, lover</text></g>
<g id="h-terminator"><rect class="c0" x="1032.8" y="1626" width="106" height="20"/><text x="1039.1" y="1638.5">Films (Terminator, 2001, Her)</text></g>
<g id="h-tech"><rect class="c0" x="1032.8" y="1655.3" width="128" height="20"/><text x="1039.1" y="1667.8">Tech leaders reinforce AI narratives</text></g>
<g id="h-gnostic"><rect class="c0" x="1032.8" y="1684.7" width="137.2" height="20"/><text x="1039.1" y="1697.2">Gnostic fantasy of human inadequacy</text></g>
<g id="h-twin"><rect class="c0" x="1032.8" y="1714" width="152.3" height="20"/><text x="1039.1" y="1726.5">Digital twin: replicating mind in cyberspace</text></g>
<g id="h-fall"><rect class="c0" x="1032.8" y="1743.4" width="84.3" height="20"/><text x="1039.1" y="1755.9">Films/TV (Fall, Upload)</text></g>
<g id="h-body"><rect class="c0" x="1032.8" y="1772.7" width="189.1" height="20"/><text x="1039.1" y="1785.2">Body disposable, self-inflicted euthanasia as progress</text></g>
</g>
</svg>
